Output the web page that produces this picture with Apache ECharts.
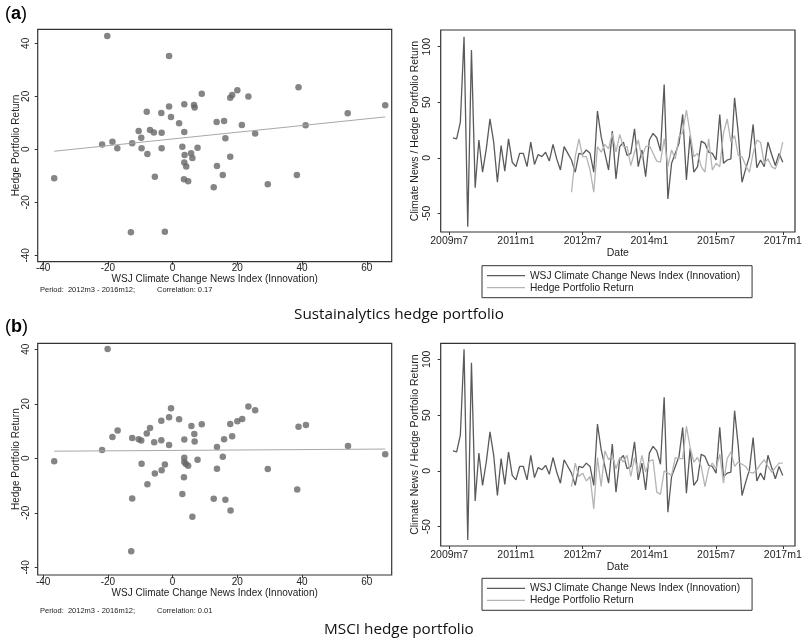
<!DOCTYPE html>
<html>
<head>
<meta charset="utf-8">
<script src="https://cdn.jsdelivr.net/npm/echarts@6/dist/echarts.min.js"></script>
<style>
  html, body { margin: 0; padding: 0; background: #fff; }
  #main { width: 807px; height: 641px; }
</style>
</head>
<body>
<div id="main"></div>
<script>
// monthly news index innovation, first month = 2009m8 (x = months since 2009m7)
var newsStart = 1;
var newsIndex = [18, 17, 32, 109, -62, 97, -27, 16, -13, 8,
  35, 14, -22, 11, -12, 17, -4, -8, 4, 4,
  -8, 14, -6, 3, 1, 5, -3, 12, -1, -11,
  10, 4, -2, -13, 4, 3, 7, 4, -13, 42,
  19, 4, -11, 24, -19, 10, 14, 2, 4, 26,
  -8, 7, -17, 16, 22, 18, 6, 66, -37, -5,
  4, 13, 39, -20, 20, -13, -8, 15, 13, 5,
  4, -2, 39, -5, -2, -1, 54, 22, -22, -10,
  1, 30, -9, -2, -8, 14, 3, -7, 4, -4];

// hedge portfolio returns, first month at x = 33
var hedgeStart = 33;
var hedgeSust = [-31, 1, 17, 1, 1, -11, -31, 10,
  5, 12, 8, 22, 5, 21, 10, 10, -7, 5,
  16, 0, 10, 11, 4, -3, -4, 17, -8, 7,
  -1, 19, 23, 43, 22, 1, 4, -8, -13, 17,
  -11, -5, -8, 22, 35, 14, 20, 2, 1, -7,
  -13, 4, 16, 14, -5, -1, -8, -10, -1, 14];
var hedgeMsci = [-14, 7, -5, -2, -9, -5, -34, 12,
  -14, 18, 10, 14, 2, 12, 8, 14, -5, 12,
  -2, 14, -1, 9, 10, -19, -21, 0, -2, -4,
  12, 11, 11, 40, 21, 8, 12, 4, -14, 2,
  7, 2, 15, -11, 11, 17, 4, 8, 6, 4,
  -1, -2, 1, 6, 10, 4, -1, 3, 7, 7];

// scatter: news innovation (x) vs hedge return (y)
var sustX = [-36.6, -20.2, -21.8, -18.6, -17.1, -12.5, -12.9, -10.5, -9.7, -9.6, -8.0, -7.8, -7.0, -5.8, -5.5, -3.5, -3.4, -3.4, -2.4, -1.1, -1.1, -0.5, 2.0, 3.0, 3.6, 3.6, 3.7, 3.6, 3.5, 4.2, 4.8, 5.7, 6.1, 6.6, 6.8, 7.7, 9.0, 12.7, 13.6, 13.7, 15.5, 15.9, 16.3, 17.8, 17.8, 18.4, 20.0, 21.4, 23.4, 25.5, 29.4, 38.4, 38.9, 41.1, 54.1, 65.7];
var sustY = [-10.9, 42.8, 1.8, 2.9, 0.4, 2.3, -31.3, 6.9, 4.4, 0.4, 14.2, -1.8, 7.3, 6.4, -10.3, 13.7, 6.3, 0.4, -31.1, 35.2, 16.2, 12.2, 9.8, 1.0, 17.0, 6.5, -2.1, -5.0, -11.3, -6.5, -12.0, -1.5, -3.3, 16.7, 15.8, 0.6, 21.0, -14.3, 10.3, -6.3, -9.7, 10.7, 4.2, 19.5, -2.8, 20.5, 22.3, 9.2, 19.9, 6.0, -13.2, -9.7, 23.4, 9.1, 13.6, 16.6];
var msciX = [-36.6, -20.1, -21.8, -18.6, -17.0, -12.5, -12.5, -12.8, -10.5, -9.7, -9.6, -8.0, -7.8, -7.0, -5.7, -5.5, -3.5, -3.5, -3.4, -2.4, -1.1, -1.1, -0.5, 2.0, 3.0, 3.6, 3.6, 3.6, 3.5, 4.1, 4.8, 5.8, 6.1, 6.7, 6.8, 7.7, 9.0, 12.7, 13.7, 13.7, 15.5, 15.9, 16.3, 17.8, 17.9, 18.4, 20.0, 21.5, 23.4, 25.5, 29.4, 38.5, 38.9, 41.2, 54.2, 65.7];
var msciY = [-1.1, 40.1, 3.1, 7.8, 10.2, 7.5, -14.7, -34.1, 7.0, 6.5, -2.0, 9.1, -9.5, 11.1, 5.9, -5.6, 13.8, 6.6, -4.4, -2.3, 15.1, 4.9, 18.4, 14.3, -13.1, 6.9, 0.2, -1.3, -6.9, -2.1, -2.7, 11.9, -21.4, 8.9, 6.2, -0.5, 12.5, -14.8, 4.2, -3.8, 0.6, 7.0, -15.2, 12.6, -19.1, 8.1, 13.6, 14.4, 19.0, 17.6, -3.9, -11.4, 11.6, 12.2, 4.5, 1.5];

var scatterTicks = [-40, -20, 0, 20, 40, 60];
var returnTicks = [-40, -20, 0, 20, 40];
var seriesTicks = [-50, 0, 50, 100];
var dateTicks = [0, 18, 36, 54, 72, 90];

var newsName = 'WSJ Climate Change News Index (Innovation)';
var hedgeName = 'Hedge Portfolio Return';
var ink = '#222';
var font = 'Liberation Sans, Arial, sans-serif';

function monthLabel(v) {
  var m = 6 + v;
  return (2009 + Math.floor(m / 12)) + 'm' + (m % 12 + 1);
}

function pairs(xs, ys) {
  return xs.map(function (x, k) { return [x, ys[k]]; });
}

function monthly(start, vals) {
  return vals.map(function (v, k) { return [start + k, v]; });
}

// least squares fit drawn over the x range
function fitLine(xs, ys) {
  var n = xs.length, sx = 0, sy = 0, sxx = 0, sxy = 0;
  for (var i = 0; i < n; i++) {
    sx += xs[i]; sy += ys[i]; sxx += xs[i] * xs[i]; sxy += xs[i] * ys[i];
  }
  var b = (n * sxy - sx * sy) / (n * sxx - sx * sx);
  var a = (sy - b * sx) / n;
  var lo = Math.min.apply(null, xs), hi = Math.max.apply(null, xs);
  return [[lo, a + b * lo], [hi, a + b * hi]];
}

function grid(left, top, width, height) {
  return {
    left: left, top: top, width: width, height: height,
    show: true, borderColor: '#333', borderWidth: 1.2, backgroundColor: 'transparent'
  };
}

function scatterX(gi) {
  return {
    type: 'value', gridIndex: gi, min: -41.7, max: 67.7,
    name: newsName, nameLocation: 'middle', nameGap: 11,
    nameTextStyle: { fontSize: 10, color: ink },
    axisLine: { show: false, onZero: false },
    axisTick: { show: true, length: 3, customValues: scatterTicks, lineStyle: { color: '#333' } },
    axisLabel: { customValues: scatterTicks, margin: 2, fontSize: 10, color: ink },
    splitLine: { show: false }
  };
}

function scatterY(gi, min, max) {
  return {
    type: 'value', gridIndex: gi, min: min, max: max,
    name: hedgeName, nameLocation: 'middle', nameGap: 15,
    nameTextStyle: { fontSize: 10, color: ink },
    axisLine: { show: false, onZero: false },
    axisTick: { show: true, length: 3, customValues: returnTicks, lineStyle: { color: '#333' } },
    axisLabel: { customValues: returnTicks, rotate: 90, margin: 6, fontSize: 10, color: ink },
    splitLine: { show: false }
  };
}

function dateX(gi) {
  return {
    type: 'value', gridIndex: gi, min: -2.3, max: 93.3,
    name: 'Date', nameLocation: 'middle', nameGap: 16,
    nameTextStyle: { fontSize: 10.5, color: ink },
    axisLine: { show: false, onZero: false },
    axisTick: { show: true, length: 3, customValues: dateTicks, lineStyle: { color: '#333' } },
    axisLabel: { customValues: dateTicks, margin: 4, fontSize: 10.5, color: ink, formatter: monthLabel },
    splitLine: { show: false }
  };
}

function seriesY(gi, min, max) {
  return {
    type: 'value', gridIndex: gi, min: min, max: max,
    name: 'Climate News / Hedge Portfolio Return', nameLocation: 'middle', nameGap: 18,
    nameTextStyle: { fontSize: 10.5, color: ink },
    axisLine: { show: false, onZero: false },
    axisTick: { show: true, length: 3, customValues: seriesTicks, lineStyle: { color: '#333' } },
    axisLabel: { customValues: seriesTicks, rotate: 90, margin: 8, fontSize: 10.5, color: ink },
    splitLine: { show: false }
  };
}

function dots(gi, xs, ys) {
  return {
    type: 'scatter', xAxisIndex: gi, yAxisIndex: gi, data: pairs(xs, ys),
    symbolSize: 6.5, itemStyle: { color: '#666' }, silent: true
  };
}

function fit(gi, xs, ys) {
  return {
    type: 'line', xAxisIndex: gi, yAxisIndex: gi, data: fitLine(xs, ys),
    showSymbol: false, symbol: 'none', lineStyle: { color: '#a8a8a8', width: 1 }, silent: true
  };
}

function trace(gi, name, start, vals, color) {
  return {
    type: 'line', name: name, xAxisIndex: gi, yAxisIndex: gi, data: monthly(start, vals),
    showSymbol: false, symbol: 'none', lineStyle: { color: color, width: 1.3 },
    itemStyle: { color: color }, silent: true
  };
}

function legend(top) {
  return {
    data: [newsName, hedgeName], left: 482, top: top, orient: 'vertical',
    icon: 'rect', itemWidth: 38, itemHeight: 1.3, itemGap: 2,
    padding: [5, 12, 5, 5], borderColor: '#333', borderWidth: 1,
    textStyle: { fontSize: 10.2, color: ink }, selectedMode: false
  };
}

function panelTag(letter, y) {
  return {
    type: 'text', left: 5, top: y,
    style: {
      text: '{p|(}{b|' + letter + '}{p|)}',
      rich: { p: { fontSize: 18, fontFamily: font, fill: '#000' }, b: { fontSize: 18, fontWeight: 'bold', fontFamily: font, fill: '#000' } }
    }
  };
}

function smallNote(x, y, text) {
  return { type: 'text', left: x, top: y, style: { text: text, fontSize: 7.5, fontFamily: font, fill: ink } };
}

function caption(text, x, y) {
  return {
    type: 'text', left: x, top: y,
    style: { text: text, fontSize: 15.3, fontFamily: 'Open Sans, Noto Sans, sans-serif', fill: '#111' }
  };
}

var chart = echarts.init(document.getElementById('main'), null, { renderer: 'canvas' });
chart.setOption({
  animation: false,
  backgroundColor: '#fff',
  textStyle: { fontFamily: font },
  grid: [
    grid(37.7, 29.3, 354, 232.4),
    grid(440.7, 30, 354.3, 202),
    grid(37.7, 343.3, 354, 231.7),
    grid(440.7, 343.3, 354.3, 202.7)
  ],
  xAxis: [scatterX(0), dateX(1), scatterX(2), dateX(3)],
  yAxis: [
    scatterY(0, -42.4, 45.3),
    seriesY(1, -66.8, 115),
    scatterY(2, -42.8, 42.2),
    seriesY(3, -67.3, 114.4)
  ],
  legend: [legend(265.7), legend(578.3)],
  series: [
    dots(0, sustX, sustY),
    fit(0, sustX, sustY),
    trace(1, newsName, newsStart, newsIndex, '#5a5a5a'),
    trace(1, hedgeName, hedgeStart, hedgeSust, '#b4b4b4'),
    dots(2, msciX, msciY),
    fit(2, msciX, msciY),
    trace(3, newsName, newsStart, newsIndex, '#5a5a5a'),
    trace(3, hedgeName, hedgeStart, hedgeMsci, '#b4b4b4')
  ],
  graphic: [
    panelTag('a', 5),
    panelTag('b', 318),
    smallNote(40, 286, 'Period:  2012m3 - 2016m12;'),
    smallNote(157, 286, 'Correlation: 0.17'),
    smallNote(40, 607, 'Period:  2012m3 - 2016m12;'),
    smallNote(157, 607, 'Correlation: 0.01'),
    caption('Sustainalytics hedge portfolio', 294, 307),
    caption('MSCI hedge portfolio', 324, 622)
  ]
});
</script>
</body>
</html>
